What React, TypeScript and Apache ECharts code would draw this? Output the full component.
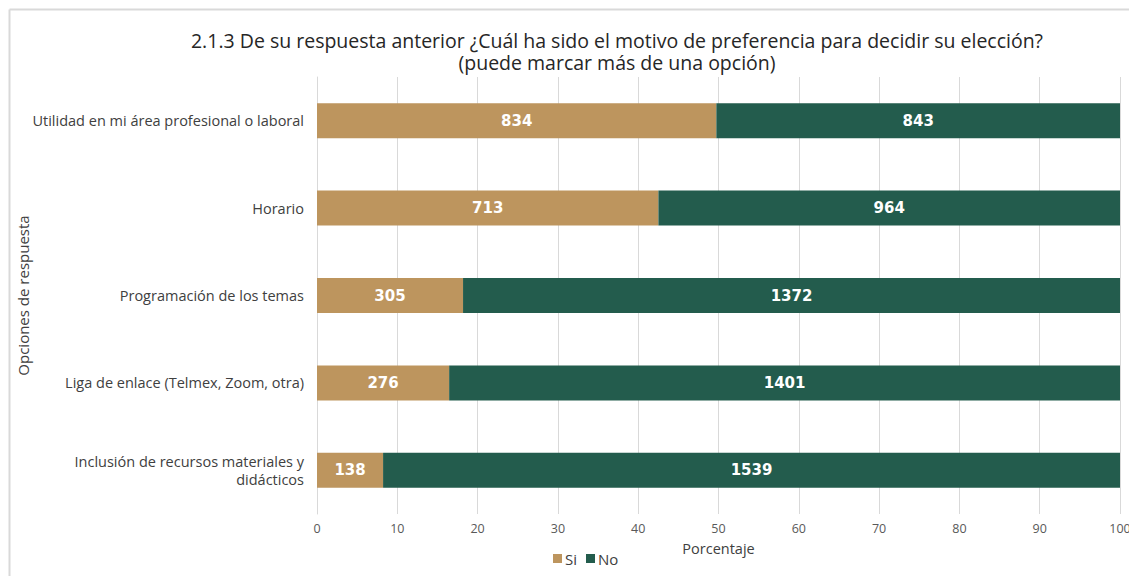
import React, { useEffect, useRef } from "react";
import * as echarts from "echarts";

const categories = [
  "Utilidad en mi área profesional o laboral",
  "Horario",
  "Programación de los temas",
  "Liga de enlace (Telmex, Zoom, otra)",
  "Inclusión de recursos materiales y\ndidácticos",
];
const siCounts = [834, 713, 305, 276, 138];
const noCounts = [843, 964, 1372, 1401, 1539];
const xTicks = [0, 10, 20, 30, 40, 50, 60, 70, 80, 90, 100];

const FONT = "'Open Sans', sans-serif";
const LABEL_FONT = "'DejaVu Sans', sans-serif";

export default function App() {
  const ref = useRef<HTMLDivElement>(null);
  useEffect(() => {
    if (!ref.current) return;
    const chart = echarts.init(ref.current, undefined, { renderer: "svg" });
    const totals = siCounts.map((s, i) => s + noCounts[i]);
    const mk = (arr: number[]) =>
      arr.map((c, i) => ({ value: (c / totals[i]) * 100, count: c }));
    const barLabel = {
      show: true,
      position: "inside",
      color: "#ffffff",
      fontFamily: LABEL_FONT,
      fontWeight: "bold",
      fontSize: 15,
      formatter: (p: any) => String(p.data.count),
    };
    chart.setOption({
      animation: false,
      textStyle: { fontFamily: FONT },
      title: {
        text: "2.1.3 De su respuesta anterior ¿Cuál ha sido el motivo de preferencia para decidir su elección?",
        subtext: "(puede marcar más de una opción)",
        left: 617,
        textAlign: "center",
        top: 30,
        padding: 0,
        itemGap: 1,
        textStyle: {
          fontFamily: FONT,
          fontSize: 19.5,
          fontWeight: "normal",
          color: "#262626",
          lineHeight: 21,
        },
        subtextStyle: {
          fontFamily: FONT,
          fontSize: 19.5,
          color: "#262626",
          lineHeight: 21,
        },
      },
      graphic: [
        { type: "line", shape: { x1: 9.5, y1: 9.5, x2: 1129, y2: 9.5 }, style: { stroke: "#d9d9d9", lineWidth: 2 } },
        { type: "line", shape: { x1: 9.5, y1: 9.5, x2: 9.5, y2: 576 }, style: { stroke: "#d9d9d9", lineWidth: 2 } },
      ],
      legend: {
        data: ["Si", "No"],
        left: 548,
        top: 546,
        itemWidth: 9,
        itemHeight: 9,
        itemGap: 9,
        icon: "rect",
        textStyle: { fontFamily: FONT, fontSize: 15, color: "#404040", padding: [0, 0, 0, -2] },
      },
      grid: { left: 317, right: 9, top: 77, bottom: 62, containLabel: false, outerBoundsMode: "none" },
      xAxis: {
        type: "value",
        min: xTicks[0],
        max: xTicks[xTicks.length - 1],
        interval: 10,
        name: "Porcentaje",
        nameLocation: "middle",
        nameGap: 27,
        nameTextStyle: { fontFamily: FONT, fontSize: 14.5, color: "#404040" },
        axisLabel: { fontFamily: FONT, fontSize: 12.5, color: "#595959", margin: 8 },
        axisLine: { show: false },
        axisTick: { show: false },
        splitLine: { show: true, lineStyle: { color: "#d9d9d9", width: 1 } },
      },
      yAxis: {
        type: "category",
        data: categories,
        inverse: true,
        name: "Opciones de respuesta",
        nameLocation: "middle",
        nameGap: 287,
        nameMoveOverlap: false,
        nameRotate: 90,
        nameTextStyle: { fontFamily: FONT, fontSize: 15, color: "#404040" },
        axisLabel: { fontFamily: FONT, fontSize: 14.5, color: "#404040", margin: 13, lineHeight: 18, align: "right" },
        axisLine: { show: true, lineStyle: { color: "#d9d9d9" } },
        axisTick: { show: false },
      },
      series: [
        {
          name: "Si",
          type: "bar",
          stack: "total",
          barWidth: 35,
          itemStyle: { color: "#BD955E" },
          label: barLabel,
          data: mk(siCounts),
        },
        {
          name: "No",
          type: "bar",
          stack: "total",
          barWidth: 35,
          itemStyle: { color: "#235C4D" },
          label: barLabel,
          data: mk(noCounts),
        },
      ],
    });
    return () => chart.dispose();
  }, []);
  return (
    <div style={{ position: "absolute", left: 0, top: 0, width: 1129, height: 576, background: "#fff" }}>
      <div ref={ref} style={{ width: 1129, height: 576 }} />
    </div>
  );
}
